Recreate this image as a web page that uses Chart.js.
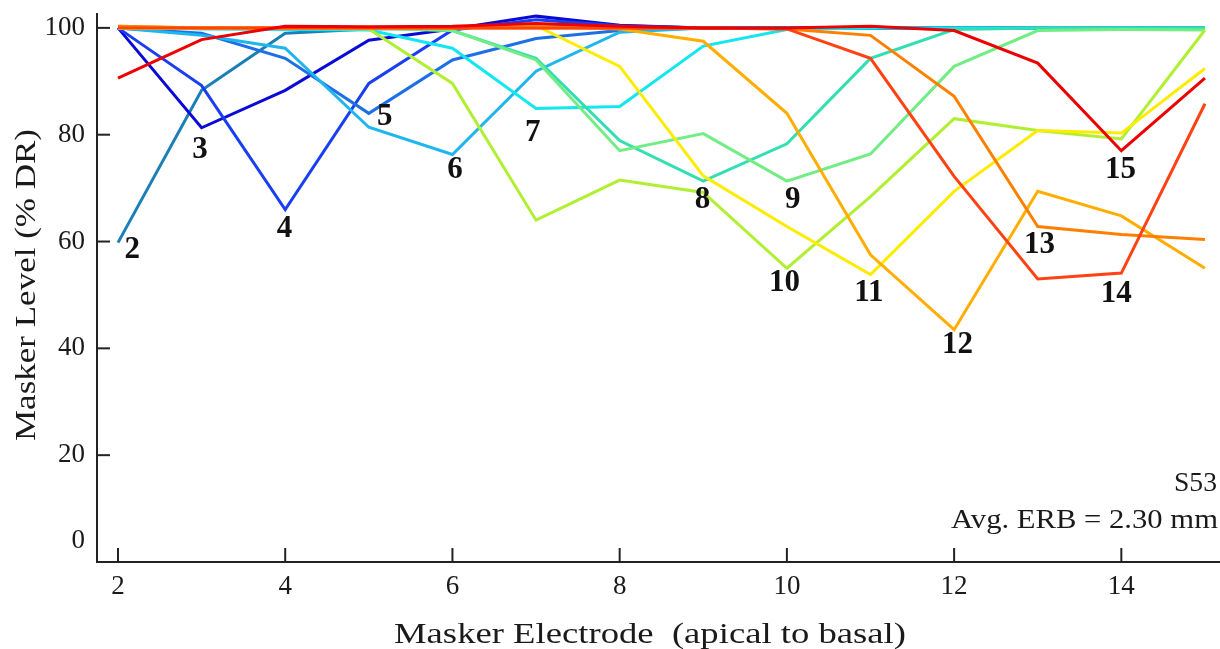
<!DOCTYPE html>
<html>
<head>
<meta charset="utf-8">
<script src="https://cdn.jsdelivr.net/npm/chart.js@4.4.1/dist/chart.umd.min.js"></script>
<style>
  html, body { margin: 0; padding: 0; background: #ffffff; }
  #wrap { width: 1220px; height: 649px; }
</style>
</head>
<body>
<div id="wrap"><canvas id="c" width="1220" height="649"></canvas></div>
<script>
// ---- data ----
const electrodes = [2, 3, 4, 5, 6, 7, 8, 9, 10, 11, 12, 13, 14, 15];
const probes = [2, 3, 4, 5, 6, 7, 8, 9, 10, 11, 12, 13, 14, 15];

const curve2  = [59.8, 88.3, 99.0, 99.8, 100, 100.5, 100.3, 100, 100, 100, 100, 100, 100, 100];
const curve3  = [100, 81.3, 88.3, 97.7, 99.8, 102.2, 100.5, 100, 100, 100, 100, 100, 100, 100];
const curve4  = [100, 89.2, 66.0, 89.6, 99.6, 101.5, 100.4, 100, 100, 100, 100, 100, 100, 100];
const curve5  = [100, 99.0, 94.3, 84.0, 94.0, 98.0, 99.5, 100, 100, 100, 100, 100, 100, 100];
const curve6  = [100, 98.6, 96.2, 81.4, 76.3, 91.9, 99.2, 100, 100, 100, 100, 100, 100, 100];
const curve7  = [100.2, 99.8, 99.7, 99.6, 96.2, 84.9, 85.3, 96.6, 99.7, 100, 100, 100, 100, 100];
const curve8  = [100, 100, 100, 100, 99.5, 94.3, 78.9, 71.3, 78.3, 94.3, 99.7, 100, 100, 100];
const curve9  = [100, 100, 100, 100, 99.5, 94.0, 77.0, 80.2, 71.3, 76.4, 92.8, 99.5, 99.7, 99.6];
const curve10 = [100, 100, 100, 99.8, 89.6, 64.0, 71.5, 69.2, 55.0, 68.4, 83.0, 80.8, 79.2, 99.6];
const curve11 = [100, 100, 100, 100, 100.2, 100.4, 92.8, 72.3, 62.8, 53.8, 69.4, 80.8, 80.3, 92.4];
const curve12 = [100.3, 100, 100, 100, 100, 100.3, 99.8, 97.5, 84.0, 57.5, 43.5, 69.4, 64.8, 55.0];
const curve13 = [100.3, 100, 100, 100, 100, 100, 100, 100, 99.8, 98.6, 87.2, 62.8, 61.3, 60.4];
const curve14 = [100, 100, 100, 100, 100, 100, 100, 100, 99.8, 94.3, 72.2, 53.0, 54.1, 85.8];
const curve15 = [90.6, 97.8, 100.3, 100.2, 100.3, 100.8, 100.3, 100, 100, 100.3, 99.5, 93.4, 77.0, 90.6];

const curves = [curve2, curve3, curve4, curve5, curve6, curve7, curve8, curve9,
                curve10, curve11, curve12, curve13, curve14, curve15];

// curve-number label positions (data coordinates)
const labelX = [2.17, 2.98, 3.99, 5.19, 6.03, 6.96, 8.99, 10.07, 9.97, 10.98, 12.04, 13.02, 13.94, 13.99];
const labelY = [58.4, 77.2, 62.4, 83.3, 73.4, 80.3, 67.8, 67.8, 52.2, 50.4, 40.6, 59.4, 50.2, 73.4];

const xTicks = [2, 4, 6, 8, 10, 12, 14];
const yTicks = [0, 20, 40, 60, 80, 100];
const zeroLabelValue = 3.9;

const xTitle = "Masker Electrode  (apical to basal)";
const yTitle = "Masker Level (% DR)";
const subjectText = "S53";
const erbText = "Avg. ERB = 2.30 mm";

// ---- styles ----
const colors = ["#1b7fb6", "#0a0ad6", "#1a3ef2", "#1d6fe6", "#1fb6ee", "#12e6ef",
                "#33dfb2", "#72ec84", "#b0ef32", "#fdec00", "#ffae00", "#ff8000",
                "#ff4212", "#ec0000"];
const SERIF = '"Liberation Serif", "Times New Roman", serif';
const INK = "#1a1a1a";

const datasets = curves.map((vals, i) => ({
  label: String(probes[i]),
  data: electrodes.map((e, j) => ({ x: e, y: vals[j] })),
  borderColor: colors[i],
  backgroundColor: colors[i],
  borderWidth: 3,
  pointRadius: 0,
  tension: 0,
  fill: false,
  clip: false,
  order: 100 - probes[i]
}));

// draw text stretched along its own direction to a target length
function stretchedText(ctx, text, cx, cy, font, targetLen, angle, align) {
  ctx.save();
  ctx.font = font;
  const w = ctx.measureText(text).width;
  const k = targetLen / w;
  ctx.translate(cx, cy);
  ctx.rotate(angle);
  ctx.scale(k, 1);
  ctx.textAlign = align || "center";
  ctx.textBaseline = "middle";
  ctx.fillText(text, 0, 0);
  ctx.restore();
}

const decor = {
  id: "decor",
  afterDatasetsDraw(chart) {
    const ctx = chart.ctx;
    const xs = chart.scales.x, ys = chart.scales.y;
    ctx.save();
    // inward tick marks
    ctx.strokeStyle = "#222";
    ctx.lineWidth = 2;
    yTicks.forEach(v => {
      if (v === 0) return;
      const py = ys.getPixelForValue(v);
      ctx.beginPath();
      ctx.moveTo(xs.left, py);
      ctx.lineTo(xs.left + 13, py);
      ctx.stroke();
    });
    xTicks.forEach(v => {
      const px = xs.getPixelForValue(v);
      ctx.beginPath();
      ctx.moveTo(px, ys.bottom);
      ctx.lineTo(px, ys.bottom - 14);
      ctx.stroke();
    });
    // "0" label (sits above the axis in the original)
    ctx.fillStyle = INK;
    ctx.font = "27px " + SERIF;
    ctx.textAlign = "right";
    ctx.textBaseline = "middle";
    ctx.fillText("0", xs.left - 12, ys.getPixelForValue(zeroLabelValue));
    // curve labels
    ctx.font = "bold 31px " + SERIF;
    ctx.textAlign = "center";
    ctx.textBaseline = "middle";
    ctx.fillStyle = "#111";
    probes.forEach((p, i) => {
      ctx.fillText(String(p), xs.getPixelForValue(labelX[i]), ys.getPixelForValue(labelY[i]));
    });
    // titles and annotations
    ctx.fillStyle = INK;
    stretchedText(ctx, xTitle, 650, 635, "30px " + SERIF, 512, 0, "center");
    stretchedText(ctx, yTitle, 27, 285, "30px " + SERIF, 312, -Math.PI / 2, "center");
    stretchedText(ctx, subjectText, 1217, 484, "27px " + SERIF, 43, 0, "right");
    stretchedText(ctx, erbText, 1218, 521, "27px " + SERIF, 267, 0, "right");
    ctx.restore();
  }
};

new Chart(document.getElementById("c"), {
  type: "line",
  data: { datasets },
  options: {
    responsive: false,
    animation: false,
    devicePixelRatio: 1,
    layout: { padding: { top: 14, right: 0, left: 0, bottom: 0 } },
    plugins: { legend: { display: false }, tooltip: { enabled: false } },
    scales: {
      x: {
        type: "linear",
        min: 1.749,
        max: 15.18,
        afterBuildTicks: s => { s.ticks = xTicks.map(v => ({ value: v })); },
        afterFit: s => { s.height = 87; s.paddingLeft = 0; s.paddingRight = 0; },
        grid: { drawOnChartArea: false, drawTicks: false },
        border: { display: true, color: "#222", width: 2 },
        ticks: { color: INK, padding: 9, font: { family: SERIF, size: 27 }, maxRotation: 0 },
        title: { display: false }
      },
      y: {
        type: "linear",
        min: 0,
        max: 102.6,
        afterBuildTicks: s => { s.ticks = yTicks.map(v => ({ value: v })); },
        afterFit: s => { s.width = 97; s.paddingTop = 0; s.paddingBottom = 0; },
        grid: { drawOnChartArea: false, drawTicks: false },
        border: { display: true, color: "#222", width: 2 },
        ticks: { color: INK, padding: 12, font: { family: SERIF, size: 27 },
                 callback: v => (v === 0 ? "" : String(v)) },
        title: { display: false }
      }
    }
  },
  plugins: [decor]
});
</script>
</body>
</html>
